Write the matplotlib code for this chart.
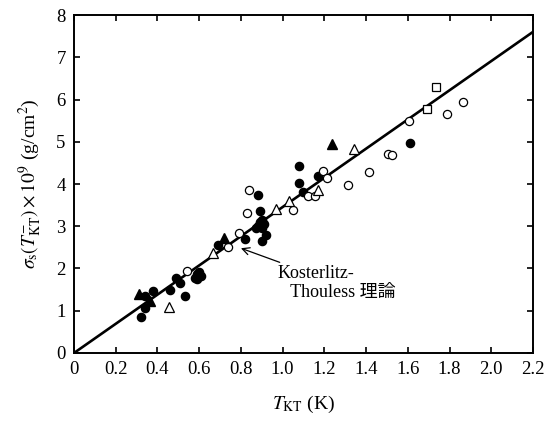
import matplotlib

matplotlib.use("Agg")
import matplotlib.pyplot as plt

plt.rcParams["font.family"] = ["Liberation Serif", "Noto Sans CJK JP"]
plt.rcParams["mathtext.fontset"] = "stix"

# superfluid areal density at the transition vs T_KT, grouped by marker type
filled_circle_x = [0.32, 0.34, 0.34, 0.38, 0.46, 0.49, 0.51, 0.53, 0.58, 0.59, 0.60, 0.61, 0.59,
                   0.69, 0.82, 0.88, 0.89, 0.88, 0.89, 0.90, 0.91, 0.90, 0.87, 0.92, 0.90,
                   1.08, 1.08, 1.10, 1.17, 1.61]
filled_circle_y = [0.86, 1.07, 1.36, 1.47, 1.50, 1.78, 1.66, 1.36, 1.78, 1.86, 1.92, 1.82, 1.75,
                   2.56, 2.70, 3.75, 3.36, 3.00, 3.10, 2.95, 3.05, 3.15, 2.95, 2.80, 2.65,
                   4.42, 4.02, 3.80, 4.18, 4.98]
open_circle_x = [0.54, 0.74, 0.79, 0.83, 0.84, 1.05, 1.12, 1.155, 1.195, 1.215, 1.315, 1.415,
                 1.505, 1.525, 1.605, 1.79, 1.865]
open_circle_y = [1.94, 2.50, 2.84, 3.32, 3.86, 3.38, 3.72, 3.72, 4.31, 4.14, 3.98, 4.28,
                 4.72, 4.68, 5.50, 5.65, 5.94]
filled_tri_x = [0.31, 0.365, 0.72, 1.235]
filled_tri_y = [1.40, 1.24, 2.72, 4.95]
open_tri_x = [0.455, 0.665, 0.97, 1.03, 1.17, 1.34]
open_tri_y = [1.08, 2.36, 3.40, 3.60, 3.86, 4.82]
open_square_x = [1.69, 1.735]
open_square_y = [5.78, 6.30]

# Kosterlitz-Thouless universal relation
kt_x = [0.0, 2.2]
kt_y = [0.0, 7.6]

x_ticks = [0, 0.2, 0.4, 0.6, 0.8, 1.0, 1.2, 1.4, 1.6, 1.8, 2.0, 2.2]
x_tick_labels = ["0", "0.2", "0.4", "0.6", "0.8", "1.0", "1.2", "1.4", "1.6", "1.8", "2.0", "2.2"]
y_ticks = [0, 1, 2, 3, 4, 5, 6, 7, 8]

fig = plt.figure(figsize=(5.54, 4.23), dpi=100)
ax = fig.add_axes([0.1336, 0.1655, 0.8284, 0.799])

ax.plot(kt_x, kt_y, color="black", linewidth=1.9, zorder=2)

ax.plot(filled_circle_x, filled_circle_y, "o", ms=5.9, mfc="black", mec="black", zorder=3)
ax.plot(open_circle_x, open_circle_y, "o", ms=5.9, mfc="white", mec="black", mew=0.9, zorder=3)
ax.plot(filled_tri_x, filled_tri_y, "^", ms=6.8, mfc="black", mec="black", zorder=3)
ax.plot(open_tri_x, open_tri_y, "^", ms=6.8, mfc="white", mec="black", mew=0.9, zorder=3)
ax.plot(open_square_x, open_square_y, "s", ms=5.9, mfc="white", mec="black", mew=0.9, zorder=3)

ax.annotate("Kosterlitz-\n   Thouless 理論", xy=(0.80, 2.48), xytext=(0.975, 2.08),
            fontsize=13, va="top", ha="left", linespacing=1.15,
            arrowprops=dict(arrowstyle="->", color="black", lw=0.9, shrinkA=0, shrinkB=0))

ax.set_xlim(0, 2.2)
ax.set_ylim(0, 8)
ax.set_xticks(x_ticks)
ax.set_xticklabels(x_tick_labels)
ax.set_yticks(y_ticks)
ax.tick_params(direction="in", length=4, width=1.2, labelsize=13.5,
               top=True, right=True, pad=6)
for s in ax.spines.values():
    s.set_linewidth(1.4)

ax.set_xlabel(r"$T_{\rm KT}$ (K)", fontsize=14, labelpad=11)
ax.set_ylabel(r"$\sigma_{\rm s}(T_{\rm KT}^{-})\times10^{9}$ (g/cm$^{2}$)", fontsize=14, labelpad=9)

fig.savefig("out.png", dpi=100)
